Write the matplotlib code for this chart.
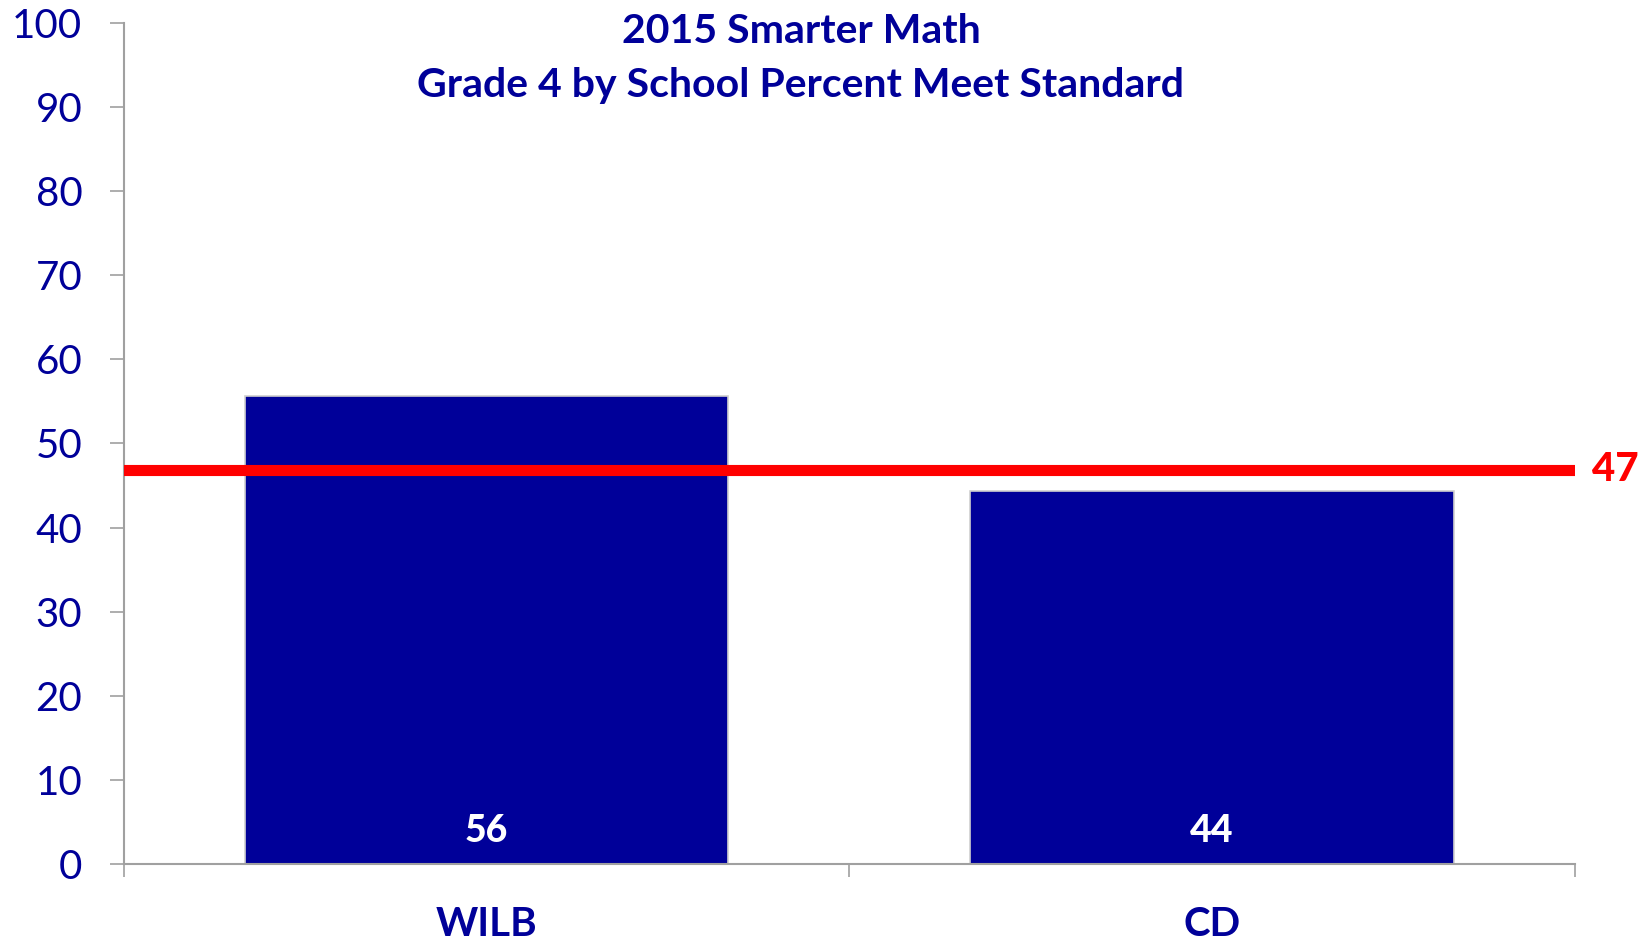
import matplotlib.pyplot as plt
import matplotlib.transforms as mtransforms

# Data
schools = ['WILB', 'CD']
pct_meet = [55.6, 44.3]
bar_labels = ['56', '44']
state_avg = 46.9
state_label = '47'

navy = '#000099'

plt.rcParams['font.family'] = ['Lato', 'DejaVu Sans']

fig = plt.figure(figsize=(16.46, 9.40), dpi=100)
ax = fig.add_axes([0.0753, 0.0809, 0.8813, 0.8947])

x = range(len(schools))
ax.bar(x, pct_meet, width=0.667, color=navy, edgecolor='#d0d0d0', linewidth=1.2, zorder=2)

# value labels near the bottom of each bar
for i, lab in enumerate(bar_labels):
    ax.text(i, 3.9, lab, color='white', fontsize=27, fontweight='black',
            ha='center', va='center', zorder=3)

# state average line
ax.axhline(state_avg, color='#ff0000', linewidth=8, zorder=4)
trans = mtransforms.blended_transform_factory(ax.transAxes, ax.transData)
ax.text(1.012, state_avg, state_label, transform=trans, color='#ff0000',
        fontsize=29, fontweight='black', ha='left', va='center', clip_on=False)

ax.set_xlim(-0.5, len(schools) - 0.5)
ax.set_ylim(0, 100)
ax.set_yticks(range(0, 101, 10))

ax.set_xticks(list(x))
ax.set_xticklabels(schools, fontsize=29, fontweight='bold', color=navy)
ax.set_xticks([-0.5, 0.5, 1.5], minor=True)
ax.tick_params(axis='x', which='major', length=0, pad=30)
ax.tick_params(axis='x', which='minor', length=9, width=1.2, color='#a0a0a0', direction='out')
ax.tick_params(axis='y', length=10, width=1.2, color='#a0a0a0', labelsize=29,
               labelcolor=navy, pad=20)

for side in ['top', 'right']:
    ax.spines[side].set_visible(False)
for side in ['left', 'bottom']:
    ax.spines[side].set_color('#a0a0a0')
    ax.spines[side].set_linewidth(1.5)

fig.text(0.4866, 0.938, '2015 Smarter Math\nGrade 4 by School Percent Meet Standard',
         ha='center', va='center', fontsize=29.5, fontweight='bold', color=navy,
         linespacing=1.57)

fig.savefig('out.png', dpi=100)
